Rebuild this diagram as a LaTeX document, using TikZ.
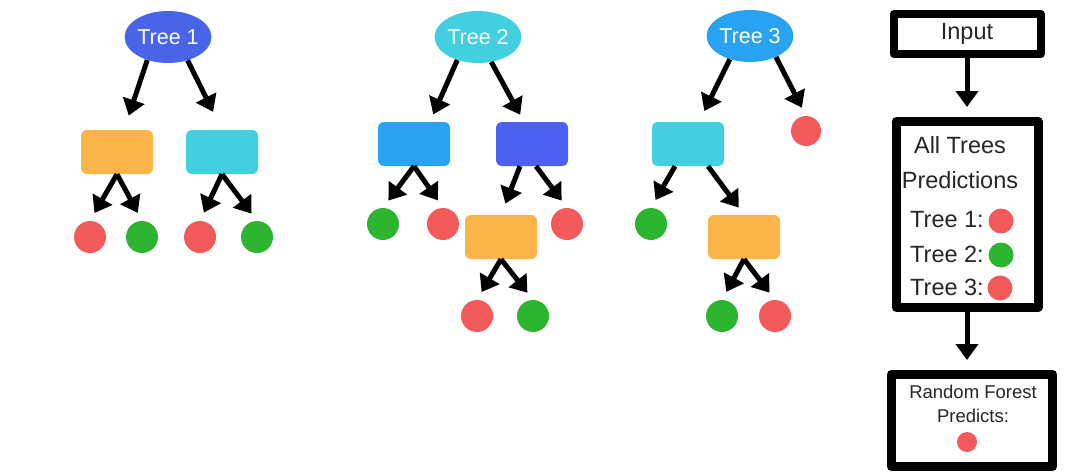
\documentclass[tikz,border=0pt]{standalone}
\usepackage{fontspec}
\setmainfont{Liberation Sans}
\usetikzlibrary{arrows.meta,shapes.geometric,positioning}
\definecolor{tblue}{HTML}{4A64E8}
\definecolor{tcyan}{HTML}{42CFE0}
\definecolor{tsky}{HTML}{2AA2F2}
\definecolor{bblue}{HTML}{4C60F2}
\definecolor{borange}{HTML}{FBB447}
\definecolor{lred}{HTML}{F25A5C}
\definecolor{lgreen}{HTML}{2DB530}
\begin{document}
\begin{tikzpicture}[x=1pt,y=-1pt,line join=round,
	root/.style={ellipse,fill=#1,minimum width=84pt,minimum height=52pt,inner sep=0pt,text=white,font=\fontsize{21.5}{25}\selectfont},
	split/.style={rectangle,rounded corners=6pt,fill=#1,minimum width=72pt,minimum height=44pt},
	leaf/.style={circle,fill=#1,minimum size=32pt,inner sep=0pt},
	arr/.style={line width=5pt,-{Triangle[length=16pt,width=22pt]},shorten >=#1},
	arr/.default=9pt,
	frame/.style={draw=black,line width=8pt,fill=white},
	lbl/.style={text=black!85,font=\fontsize{23.5}{27}\selectfont,inner sep=0pt}]
	\fill[white] (0,0) rectangle (1078,471);
	\useasboundingbox (0,0) rectangle (1078,471);
	
	% Tree 1
	\node[root=tblue] (t1) at (168,37) {Tree 1};
	\node[split=borange] (b11) at (117,152) {};
	\node[split=tcyan] (b12) at (222,152) {};
	\node[leaf=lred] (c11) at (90,237) {};
	\node[leaf=lgreen] (c12) at (142,237) {};
	\node[leaf=lred] (c13) at (200,237) {};
	\node[leaf=lgreen] (c14) at (257,237) {};
	\draw[arr=15pt] (t1.228) -- ([xshift=7pt]b11.north);
	\draw[arr=20pt] (t1.310) -- (b12.north);
	\draw[arr] (b11.south) -- (c11.north);
	\draw[arr] (b11.south) -- (c12.north);
	\draw[arr] (b12.south) -- (c13.north);
	\draw[arr] (b12.south) -- (c14.north);
	
	% Tree 2
	\node[root=tcyan] (t2) at (478,37) {Tree 2};
	\node[split=tsky] (b21) at (414,144) {};
	\node[split=bblue] (b22) at (532,144) {};
	\node[split=borange] (b23) at (501,237) {};
	\node[leaf=lgreen] (c21) at (383,224) {};
	\node[leaf=lred] (c22) at (443,224) {};
	\node[leaf=lred] (c23) at (567,224) {};
	\node[leaf=lred] (c24) at (477,316) {};
	\node[leaf=lgreen] (c25) at (533,316) {};
	\draw[arr=8pt] (t2.228) -- ([xshift=16pt]b21.north);
	\draw[arr=8pt] (t2.298) -- ([xshift=-8pt]b22.north);
	\draw[arr] (b21.south) -- (c21.north);
	\draw[arr] (b21.south) -- (c22.north);
	\draw[arr=12pt] ([xshift=-12pt]b22.south) -- (b23.north);
	\draw[arr] ([xshift=4pt]b22.south) -- (c23.north);
	\draw[arr] (b23.south) -- (c24.north);
	\draw[arr] (b23.south) -- (c25.north);
	
	% Tree 3
	\node[root=tsky] (t3) at (750,36) {Tree 3};
	\node[split=tcyan] (b31) at (688,144) {};
	\node[split=borange] (b32) at (744,237) {};
	\node[leaf=lred,minimum size=30pt] (c31) at (806,131) {};
	\node[leaf=lgreen] (c32) at (651,224) {};
	\node[leaf=lgreen] (c33) at (722,316) {};
	\node[leaf=lred] (c34) at (775,316) {};
	\draw[arr=12pt] (t3.229) -- ([xshift=11pt]b31.north);
	\draw[arr] (t3.321) -- (c31.north);
	\draw[arr] ([xshift=-13pt]b31.south) -- (c32.north);
	\draw[arr] ([xshift=20pt]b31.south) -- (b32.north);
	\draw[arr] (b32.south) -- (c33.north);
	\draw[arr] (b32.south) -- (c34.north);
	
	% voting
	\node[frame,lbl,minimum width=147pt,minimum height=40pt] (inp) at (967,34) {Input};
	\node[frame,line width=9pt,minimum width=142pt,minimum height=186pt] (allp) at (967,214.5) {};
	\node[lbl] (hd1) at (960,145) {All Trees};
	\node[lbl] (hd2) at (960,180) {Predictions};
	\node[lbl] (p1) at (947,220) {Tree 1:};
	\node[lbl] (p2) at (947,254) {Tree 2:};
	\node[lbl] (p3) at (947,287) {Tree 3:};
	\node[leaf=lred,minimum size=25pt] (v1) at (1001,221) {};
	\node[leaf=lgreen,minimum size=25pt] (v2) at (1001,255) {};
	\node[leaf=lred,minimum size=25pt] (v3) at (1000,288) {};
	\node[frame,line width=9pt,minimum width=161pt,minimum height=92pt] (rf) at (972,420.5) {};
	\node[lbl,font=\fontsize{18.5}{22}\selectfont] (rf1) at (973,392) {Random Forest};
	\node[lbl,font=\fontsize{18.5}{22}\selectfont] (rf2) at (973,416) {Predicts:};
	\node[leaf=lred,minimum size=20pt] (rfv) at (967,442) {};
	\draw[arr=10pt] (inp.south) -- (allp.north);
	\draw[arr=10pt] (allp.south) -- (allp.south |- rf.north);
\end{tikzpicture}
\end{document}
